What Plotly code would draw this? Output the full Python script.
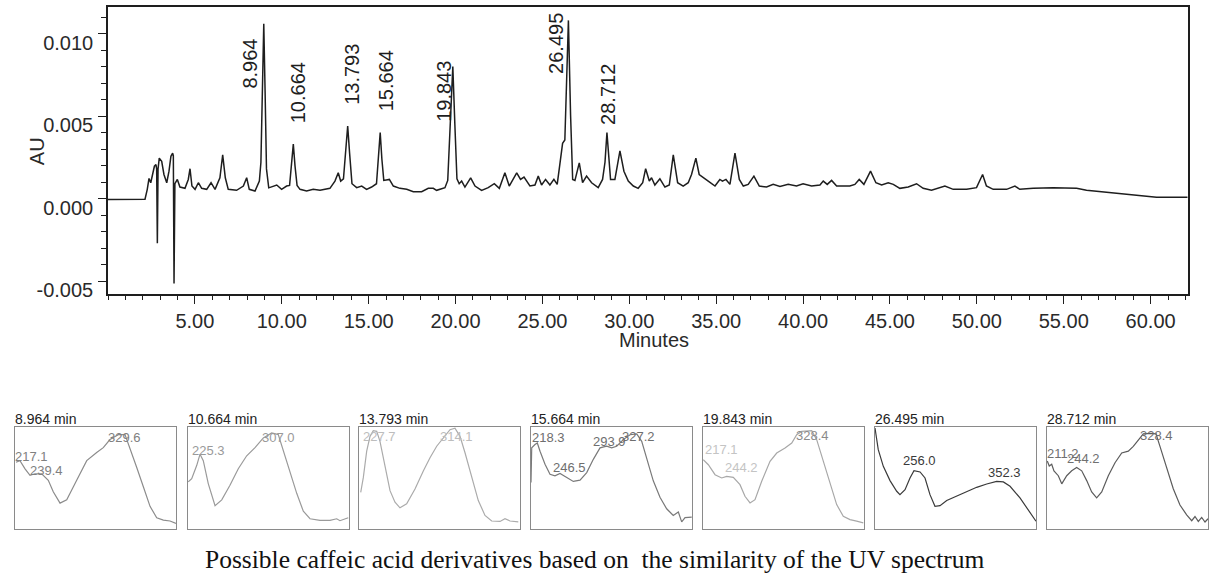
import plotly.graph_objects as go

# ---------------- main chromatogram ----------------
time_min = [0.0, 1.0, 2.05, 2.13, 2.26, 2.36, 2.46, 2.57, 2.67, 2.76, 2.80, 2.84, 2.88, 2.95,
            3.09, 3.22, 3.38, 3.51, 3.62, 3.72, 3.76, 3.80, 3.85, 3.99, 4.14, 4.43, 4.62,
            4.72, 4.83, 5.01, 5.20, 5.39, 5.68, 5.93, 6.16, 6.44, 6.60, 6.75, 6.92, 7.40,
            7.79, 7.98, 8.13, 8.46, 8.71, 8.80, 8.88, 8.964, 9.04, 9.12, 9.25, 9.61, 9.71,
            9.99, 10.28, 10.45, 10.56, 10.664, 10.76, 10.88, 11.05, 11.43, 11.81, 12.20,
            12.77, 13.06, 13.25, 13.39, 13.55, 13.68, 13.793, 13.90, 14.04, 14.31, 14.60,
            14.88, 15.17, 15.45, 15.56, 15.664, 15.76, 15.87, 16.19, 16.42, 16.80, 17.19,
            17.57, 18.05, 18.43, 18.72, 18.91, 19.39, 19.55, 19.68, 19.843, 19.96, 20.08,
            20.21, 20.35, 20.54, 20.87, 21.12, 21.50, 21.88, 22.23, 22.52, 22.84, 23.09,
            23.52, 23.74, 23.94, 24.28, 24.57, 24.76, 24.95, 25.18, 25.43, 25.66, 25.85,
            26.00, 26.16, 26.29, 26.495, 26.62, 26.74, 26.87, 27.12, 27.31, 27.54, 27.83,
            28.21, 28.46, 28.60, 28.712, 28.82, 28.92, 29.17, 29.46, 29.69, 29.94, 30.23,
            30.51, 30.77, 30.94, 31.15, 31.28, 31.47, 31.76, 32.05, 32.30, 32.53, 32.78,
            33.10, 33.39, 33.58, 33.83, 34.02, 34.25, 34.54, 34.93, 35.21, 35.36, 35.56,
            35.79, 36.08, 36.33, 36.56, 36.84, 37.17, 37.48, 37.90, 38.28, 38.67, 39.14,
            39.62, 40.00, 40.49, 40.97, 41.16, 41.39, 41.64, 41.93, 42.69, 42.98, 43.23,
            43.50, 43.88, 44.19, 44.52, 44.90, 45.19, 45.57, 46.05, 46.53, 46.91, 47.39,
            48.16, 48.64, 49.41, 49.98, 50.33, 50.55, 50.94, 51.71, 52.19, 52.47, 53.24,
            54.39, 55.74, 56.31, 57.08, 58.23, 59.38, 60.34, 62.12]
absorbance_au = [-0.00005, -0.00003, 0.0, -0.00004, 0.00056, 0.00122, 0.00096, 0.00146, 0.00196,
                 0.00206, 0.0018, -0.0027, 0.0018, 0.00245, 0.00226, 0.00146, 0.00096, 0.00166,
                 0.00256, 0.00275, 0.0026, -0.00515, 0.0009, 0.00116, 0.0007, 0.00062, 0.00116,
                 0.00181, 0.00076, 0.00056, 0.00096, 0.00062, 0.00056, 0.00096, 0.00056, 0.00126,
                 0.00265, 0.00126, 0.00056, 0.0005, 0.00076, 0.00126, 0.00056, 0.00046, 0.00106,
                 0.0022, 0.0065, 0.0106, 0.0065, 0.0018, 0.00065, 0.00076, 0.00082, 0.00056,
                 0.00076, 0.0008, 0.0020, 0.0033, 0.0020, 0.0008, 0.00056, 0.00046, 0.00056,
                 0.0005, 0.00062, 0.00106, 0.00156, 0.00106, 0.0012, 0.0028, 0.0044, 0.0028,
                 0.0009, 0.00066, 0.00076, 0.00056, 0.0007, 0.0009, 0.0024, 0.0040, 0.0024,
                 0.0011, 0.00116, 0.00076, 0.00062, 0.00056, 0.00042, 0.00042, 0.00062, 0.00062,
                 0.0005, 0.00066, 0.0011, 0.0045, 0.0080, 0.0045, 0.0012, 0.0009, 0.00106,
                 0.0007, 0.00126, 0.00076, 0.0005, 0.00066, 0.0009, 0.00062, 0.00156, 0.00076,
                 0.00156, 0.00116, 0.0013, 0.00076, 0.00082, 0.00136, 0.00082, 0.00116, 0.00082,
                 0.00116, 0.00086, 0.00206, 0.00335, 0.00355, 0.0108, 0.00505, 0.00116, 0.0011,
                 0.00216, 0.00096, 0.00136, 0.00096, 0.00066, 0.00116, 0.0022, 0.0040, 0.0022,
                 0.00116, 0.00116, 0.00289, 0.00166, 0.00106, 0.00076, 0.00062, 0.00096, 0.00181,
                 0.00106, 0.00126, 0.00082, 0.0012, 0.0007, 0.00082, 0.00265, 0.00096, 0.00076,
                 0.00096, 0.00146, 0.00245, 0.00146, 0.00126, 0.00106, 0.00076, 0.00116, 0.00106,
                 0.00116, 0.00086, 0.00275, 0.00116, 0.00076, 0.00086, 0.00136, 0.00076, 0.0007,
                 0.00086, 0.00074, 0.00086, 0.00076, 0.0009, 0.00076, 0.00082, 0.00106, 0.00086,
                 0.0011, 0.00076, 0.00076, 0.00086, 0.00116, 0.00086, 0.00166, 0.00096, 0.00082,
                 0.00096, 0.00086, 0.00062, 0.0007, 0.0009, 0.00062, 0.0005, 0.00076, 0.00056,
                 0.00056, 0.00066, 0.00146, 0.00076, 0.00056, 0.00056, 0.00076, 0.00056, 0.00062,
                 0.00066, 0.00062, 0.0005, 0.00042, 0.00034, 0.0002, 0.00008, 0.00008]

peak_times = [8.964, 10.664, 13.793, 15.664, 19.843, 26.495, 28.712]

x_tick_vals = [5, 10, 15, 20, 25, 30, 35, 40, 45, 50, 55, 60]
x_tick_text = ["5.00", "10.00", "15.00", "20.00", "25.00", "30.00", "35.00", "40.00",
               "45.00", "50.00", "55.00", "60.00"]
y_tick_vals = [-0.005, 0.0, 0.005, 0.010]
y_tick_text = ["-0.005", "0.000", "0.005", "0.010"]

# ---------------- UV spectra (nm, relative absorbance) ----------------
spec1_nm = [213.1, 217.5, 223.1, 228.6, 234.1, 241.5, 248.8, 254.3, 261.8, 269.2, 280.2, 291.3, 302.3,
            309.6, 317.0, 326.2, 333.6, 339.1, 346.5, 353.9, 361.3, 368.7, 376.0, 383.4, 390.0]
spec1_abs = [0.651, 0.667, 0.587, 0.522, 0.538, 0.538, 0.474, 0.362, 0.25, 0.282, 0.474, 0.667, 0.747,
             0.795, 0.875, 0.923, 0.923, 0.795, 0.603, 0.41, 0.218, 0.106, 0.083, 0.074, 0.051]
spec2_nm = [212.3, 216.1, 221.6, 225.3, 228.9, 234.4, 241.9, 249.3, 258.4, 267.6, 276.9, 286.1, 295.3,
            304.5, 311.8, 317.4, 324.8, 332.2, 339.5, 346.9, 357.9, 369.0, 376.4, 380.0, 389.2]
spec2_abs = [0.458, 0.49, 0.619, 0.731, 0.667, 0.442, 0.224, 0.282, 0.426, 0.587, 0.715, 0.795, 0.891,
             0.939, 0.923, 0.763, 0.571, 0.346, 0.17, 0.096, 0.08, 0.08, 0.096, 0.077, 0.106]
spec3_nm = [213.9, 216.8, 220.5, 224.2, 227.8, 231.6, 235.2, 240.7, 246.3, 251.8, 257.3, 264.7, 273.9,
            283.1, 290.5, 297.9, 305.2, 312.6, 318.1, 323.7, 329.2, 336.6, 343.9, 351.3, 358.7, 367.9,
            373.4, 379.0, 388.1]
spec3_abs = [0.356, 0.502, 0.76, 0.906, 0.961, 0.955, 0.857, 0.599, 0.372, 0.259, 0.204, 0.243, 0.388,
             0.566, 0.696, 0.809, 0.89, 0.971, 0.987, 0.906, 0.745, 0.502, 0.275, 0.129, 0.074, 0.07,
             0.097, 0.074, 0.065]
spec4_nm = [212.0, 212.8, 216.4, 219.0, 222.0, 227.5, 233.0, 238.5, 244.1, 251.5, 258.8, 266.2, 273.6,
            280.9, 288.3, 295.7, 301.2, 306.7, 314.0, 321.5, 328.9, 334.4, 339.9, 347.2, 354.6, 362.0,
            369.3, 374.9, 378.6, 382.3, 389.7]
spec4_abs = [0.453, 0.793, 0.825, 0.841, 0.76, 0.631, 0.534, 0.518, 0.541, 0.502, 0.463, 0.476, 0.55,
             0.68, 0.793, 0.809, 0.793, 0.809, 0.874, 0.922, 0.929, 0.857, 0.696, 0.469, 0.308, 0.194,
             0.129, 0.162, 0.065, 0.107, 0.113]
spec5_nm = [212.3, 217.9, 225.3, 232.7, 238.2, 245.5, 252.9, 258.4, 264.0, 269.5, 276.9, 286.1, 293.5,
            302.7, 310.1, 315.6, 321.1, 332.2, 337.7, 345.0, 352.4, 359.8, 367.1, 374.5, 381.9, 389.2]
spec5_abs = [0.676, 0.627, 0.529, 0.497, 0.513, 0.503, 0.431, 0.317, 0.252, 0.284, 0.464, 0.66, 0.742,
             0.791, 0.84, 0.922, 0.954, 0.961, 0.873, 0.66, 0.431, 0.235, 0.121, 0.088, 0.072, 0.056]
spec6_nm = [212.0, 215.6, 221.2, 228.6, 236.0, 239.6, 245.2, 250.7, 255.1, 261.8, 267.3, 272.8, 278.3,
            283.9, 291.3, 302.3, 313.4, 324.4, 335.5, 346.5, 353.9, 361.3, 372.3, 383.4, 390.0]
spec6_abs = [0.987, 0.775, 0.611, 0.471, 0.366, 0.333, 0.382, 0.497, 0.569, 0.556, 0.497, 0.333, 0.219,
             0.225, 0.275, 0.317, 0.366, 0.405, 0.438, 0.464, 0.458, 0.415, 0.301, 0.154, 0.072]
spec7_nm = [212.3, 214.5, 217.2, 219.7, 224.5, 228.3, 233.8, 239.3, 244.8, 250.4, 255.9, 261.4, 266.9,
            272.5, 279.8, 287.2, 294.6, 301.9, 307.4, 312.9, 318.5, 325.9, 332.5, 336.9, 344.3, 351.6,
            359.0, 366.4, 372.0, 375.6, 379.3, 383.0, 386.7, 390.0]
spec7_abs = [0.663, 0.615, 0.632, 0.567, 0.519, 0.439, 0.519, 0.567, 0.599, 0.567, 0.471, 0.359, 0.301,
             0.359, 0.519, 0.647, 0.743, 0.76, 0.808, 0.872, 0.93, 0.936, 0.93, 0.808, 0.599, 0.391,
             0.231, 0.135, 0.077, 0.118, 0.07, 0.109, 0.064, 0.096]

spec1_max = ["217.1", "239.4", "329.6"]
spec2_max = ["225.3", "307.0"]
spec3_max = ["227.7", "314.1"]
spec4_max = ["218.3", "246.5", "293.9", "327.2"]
spec5_max = ["217.1", "244.2", "328.4"]
spec6_max = ["256.0", "352.3"]
spec7_max = ["211.2", "244.2", "328.4"]

caption = "Possible caffeic acid derivatives based on  the similarity of the UV spectrum"

# ---------------- layout / style settings ----------------
W, H = 1215, 579
FONT = "Liberation Sans, Arial, sans-serif"
INK = "#1e1e1e"

def px_x(p):
    return p / W

def px_y(p):
    return 1 - p / H

# peak label placement (pixel shift, bottom of label in AU)
peak_label_dx = [-14, 5, 4, 6, -9, -12, 1]
peak_label_bottom = [0.00653, 0.00443, 0.00557, 0.00515, 0.00455, 0.00743, 0.00437]

# spectrum label placement (nm, rel. absorbance)
spec_label_pos = [
    [(212.0, 0.71), (228.6, 0.567), (314.8, 0.894)],
    [(216.1, 0.762), (293.5, 0.891)],
    [(216.8, 0.906), (301.6, 0.906)],
    [(212.8, 0.89), (236.7, 0.599), (280.9, 0.857), (312.3, 0.906)],
    [(214.2, 0.775), (236.3, 0.595), (314.8, 0.912)],
    [(243.3, 0.669), (336.6, 0.554)],
    [(212.3, 0.736), (234.5, 0.688), (314.8, 0.913)],
]
spec_line_colors = ["#8c8c8c", "#9a9a9a", "#ababab", "#7a7a7a", "#a8a8a8", "#3a3a3a", "#5c5c5c"]
spec_label_colors = [
    ["#808080"] * 3,
    ["#9a9a9a"] * 2,
    ["#bdbdbd"] * 2,
    ["#6e6e6e"] * 4,
    ["#c4c4c4", "#c4c4c4", "#8a8a8a"],
    ["#3a3a3a"] * 2,
    ["#707070"] * 3,
]
box_left = [15, 188, 359, 531, 703, 875, 1047]
box_width = 161
box_top, box_bottom = 432, 535

spectra_nm = [spec1_nm, spec2_nm, spec3_nm, spec4_nm, spec5_nm, spec6_nm, spec7_nm]
spectra_abs = [spec1_abs, spec2_abs, spec3_abs, spec4_abs, spec5_abs, spec6_abs, spec7_abs]
spectra_max = [spec1_max, spec2_max, spec3_max, spec4_max, spec5_max, spec6_max, spec7_max]

fig = go.Figure()
fig.add_trace(go.Scatter(x=time_min, y=absorbance_au, mode="lines",
                         line=dict(color=INK, width=1.5), xaxis="x", yaxis="y",
                         showlegend=False, hoverinfo="skip"))

annotations = []
for t, dx, yb in zip(peak_times, peak_label_dx, peak_label_bottom):
    annotations.append(dict(x=t, y=yb, xref="x", yref="y", text=f"{t:.3f}", textangle=-90,
                            xanchor="center", yanchor="bottom", xshift=dx, showarrow=False,
                            font=dict(family=FONT, size=20, color=INK)))

layout_axes = {}
layout_axes["xaxis"] = dict(domain=[px_x(108), px_x(1188)], range=[0, 62.15], anchor="y",
                            showline=True, mirror=True, linecolor=INK, linewidth=1.6,
                            ticks="outside", ticklen=8, tickwidth=1.2, tickcolor=INK,
                            tickvals=x_tick_vals, ticktext=x_tick_text,
                            minor=dict(ticks="outside", ticklen=4, dtick=1, tick0=0,
                                       tickcolor=INK, tickwidth=1),
                            showgrid=False, zeroline=False,
                            tickfont=dict(family=FONT, size=20, color="#2a2a2a"))
layout_axes["yaxis"] = dict(domain=[px_y(298), px_y(7)], range=[-0.005808, 0.011617], anchor="x",
                            showline=True, mirror=True, linecolor=INK, linewidth=1.6,
                            ticks="outside", ticklen=8, tickwidth=1.2, tickcolor=INK,
                            tickvals=y_tick_vals, ticktext=y_tick_text,
                            minor=dict(ticks="outside", ticklen=5, dtick=0.001, tick0=0,
                                       tickcolor=INK, tickwidth=1),
                            ticklabelshift=9, ticklabelstandoff=1,
                            showgrid=False, zeroline=False,
                            tickfont=dict(family=FONT, size=20, color="#2a2a2a"))

annotations.append(dict(x=px_x(37), y=px_y(153), xref="paper", yref="paper", text="AU",
                        textangle=-90, showarrow=False, xanchor="center", yanchor="middle",
                        font=dict(family=FONT, size=20, color="#2a2a2a")))
annotations.append(dict(x=px_x(654), y=px_y(344), xref="paper", yref="paper", text="Minutes",
                        showarrow=False, xanchor="center", yanchor="middle",
                        font=dict(family=FONT, size=20, color="#2a2a2a")))

for i in range(7):
    n = i + 2
    xa, ya = f"xaxis{n}", f"yaxis{n}"
    xr, yr = f"x{n}", f"y{n}"
    fig.add_trace(go.Scatter(x=spectra_nm[i], y=spectra_abs[i], mode="lines",
                             line=dict(color=spec_line_colors[i], width=1.2),
                             xaxis=xr, yaxis=yr, showlegend=False, hoverinfo="skip"))
    L = box_left[i]
    layout_axes[xa] = dict(domain=[px_x(L), px_x(L + box_width)], range=[212, 390], anchor=yr,
                           showline=True, mirror=True, linecolor="#8a8a8a", linewidth=1.2,
                           showticklabels=False, ticks="", showgrid=False, zeroline=False)
    layout_axes[ya] = dict(domain=[px_y(box_bottom), px_y(box_top)], range=[0, 1.0], anchor=xr,
                           showline=True, mirror=True, linecolor="#8a8a8a", linewidth=1.2,
                           showticklabels=False, ticks="", showgrid=False, zeroline=False)
    annotations.append(dict(x=0, y=1, xref=f"{xr} domain", yref=f"{yr} domain",
                            text=f"{peak_times[i]:.3f} min", showarrow=False,
                            xanchor="left", yanchor="bottom", xshift=-2, yshift=-2,
                            font=dict(family=FONT, size=14, color="#222222")))
    for txt, (lx, ly), col in zip(spectra_max[i], spec_label_pos[i], spec_label_colors[i]):
        annotations.append(dict(x=lx, y=ly, xref=xr, yref=yr, text=txt, showarrow=False,
                                xanchor="left", yanchor="middle", xshift=-2,
                                font=dict(family=FONT, size=13, color=col)))

annotations.append(dict(x=px_x(595), y=px_y(566), xref="paper", yref="paper", text=caption,
                        showarrow=False, xanchor="center", yanchor="middle",
                        font=dict(family="Liberation Serif, Times New Roman, serif", size=25.5,
                                  color="#111111")))

fig.update_layout(width=W, height=H, margin=dict(l=0, r=0, t=0, b=0),
                  paper_bgcolor="white", plot_bgcolor="white",
                  annotations=annotations, showlegend=False, **layout_axes)

fig.write_html("out.html", config={"displayModeBar": False},
               post_script="document.body.style.margin='0';document.body.style.padding='0';")
